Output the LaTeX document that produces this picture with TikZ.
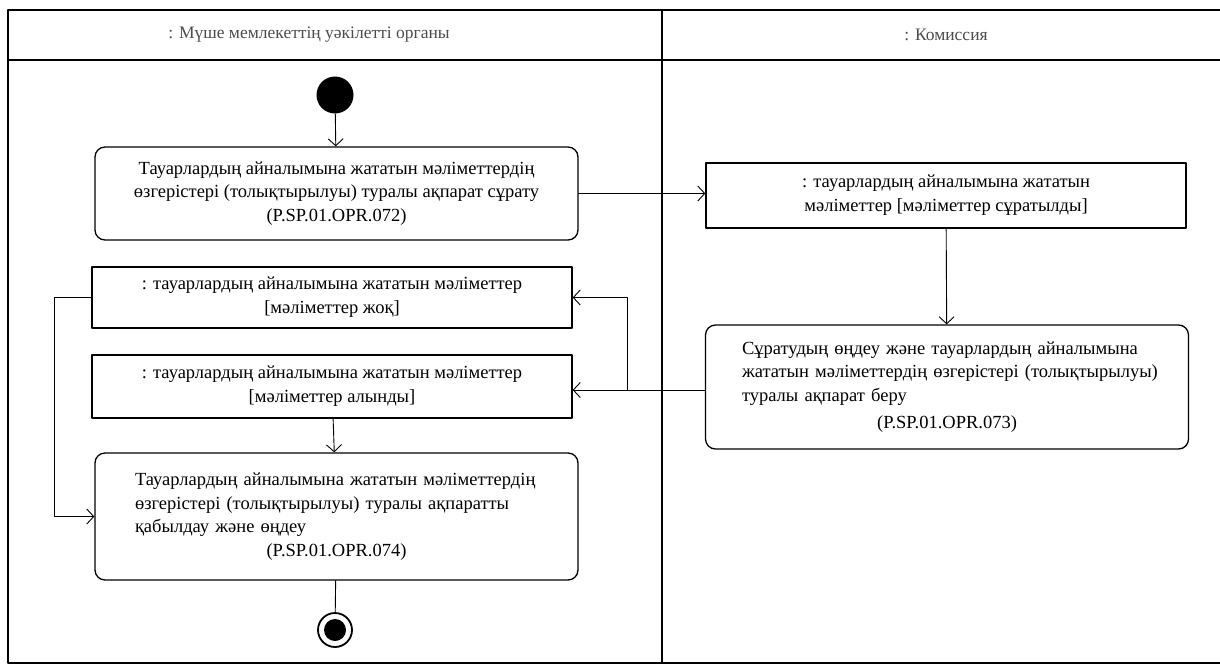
\documentclass[tikz,border=0pt]{standalone}
\usepackage{fontspec}
\setmainfont{Liberation Serif}
\usetikzlibrary{arrows.meta}
\begin{document}
\begin{tikzpicture}[x=1pt, y=-1pt, >={Straight Barb[length=7pt,width=15pt]}, line cap=round, line join=round,
	act/.style={draw, line width=1.3pt, rounded corners=10pt, minimum width=483pt, inner sep=0pt, font=\fontsize{18.5}{23.5}\selectfont},
	obj/.style={draw, line width=1.3pt, minimum width=480pt, inner sep=0pt, align=center, font=\fontsize{18.5}{24}\selectfont},
	lane/.style={text=black!70, font=\fontsize{17.5}{20}\selectfont},
	flow/.style={->, line width=0.9pt}]
		\useasboundingbox (0,0) rectangle (1220,666);
		\draw [line width=1.6pt] (1225,10)--(8,10)--(8,663)--(1225,663) (8,60)--(1225,60) (662,10)--(662,663);
		\node[lane] (memhead) at (309,35) {: Мүше мемлекеттің уәкілетті органы};
		\node[lane] (comhead) at (946,35) {: Комиссия};
		\node[circle, fill=black, minimum size=37pt, inner sep=0pt] (start) at (335,95) {};
		\node[act, minimum height=93pt, align=center] (sur) at (336.5,193.5)
			{Тауарлардың айналымына жататын мәліметтердің\\өзгерістері (толықтырылуы) туралы ақпарат сұрату\\(P.SP.01.OPR.072)};
		\node[obj, minimum height=65pt] (dsur) at (946,195.5) {: тауарлардың айналымына жататын\\мәліметтер [мәліметтер сұратылды]};
		\node[act, minimum height=124pt, text width=410pt, align=left] (ber) at (947,387)
			{\mbox{Сұратудың өңдеу және тауарлардың айналымына}\\\mbox{жататын мәліметтердің өзгерістері (толықтырылуы)}\\туралы ақпарат беру\\[4pt]\makebox[\linewidth]{(P.SP.01.OPR.073)}};
		\node[obj, minimum height=61pt] (djok) at (332,297.5) {: тауарлардың айналымына жататын мәліметтер\\{[мәліметтер жоқ]}};
		\node[obj, minimum height=63pt] (dal) at (332,386.5) {: тауарлардың айналымына жататын мәліметтер\\{[мәліметтер алынды]}};
		\node[act, minimum height=127pt, text width=403pt, align=left] (qab) at (336.5,516.5)
			{Тауарлардың айналымына жататын мәліметтердің\\өзгерістері (толықтырылуы) туралы ақпаратты\\қабылдау және өңдеу\\\makebox[\linewidth]{(P.SP.01.OPR.074)}};
		\node[circle, draw, line width=1.8pt, minimum size=34pt, inner sep=0pt] (stop) at (335,630) {};
		\fill (stop) circle(11pt);
		\coordinate (split) at (627,390);
		\draw [flow] (start)--(sur);
		\draw [flow] (sur)--(dsur.west |- sur);
		\draw [flow] (dsur)--(ber);
		\draw [flow] (ber.west |- split)--(dal.east |- split);
		\draw [flow] (split)|-(djok);
		\draw [flow] (djok.west)--++(-37,0)|-(qab);
		\draw [flow] (dal)--(qab);
		\draw [line width=0.9pt] (qab)--(stop);
\end{tikzpicture}
\end{document}
